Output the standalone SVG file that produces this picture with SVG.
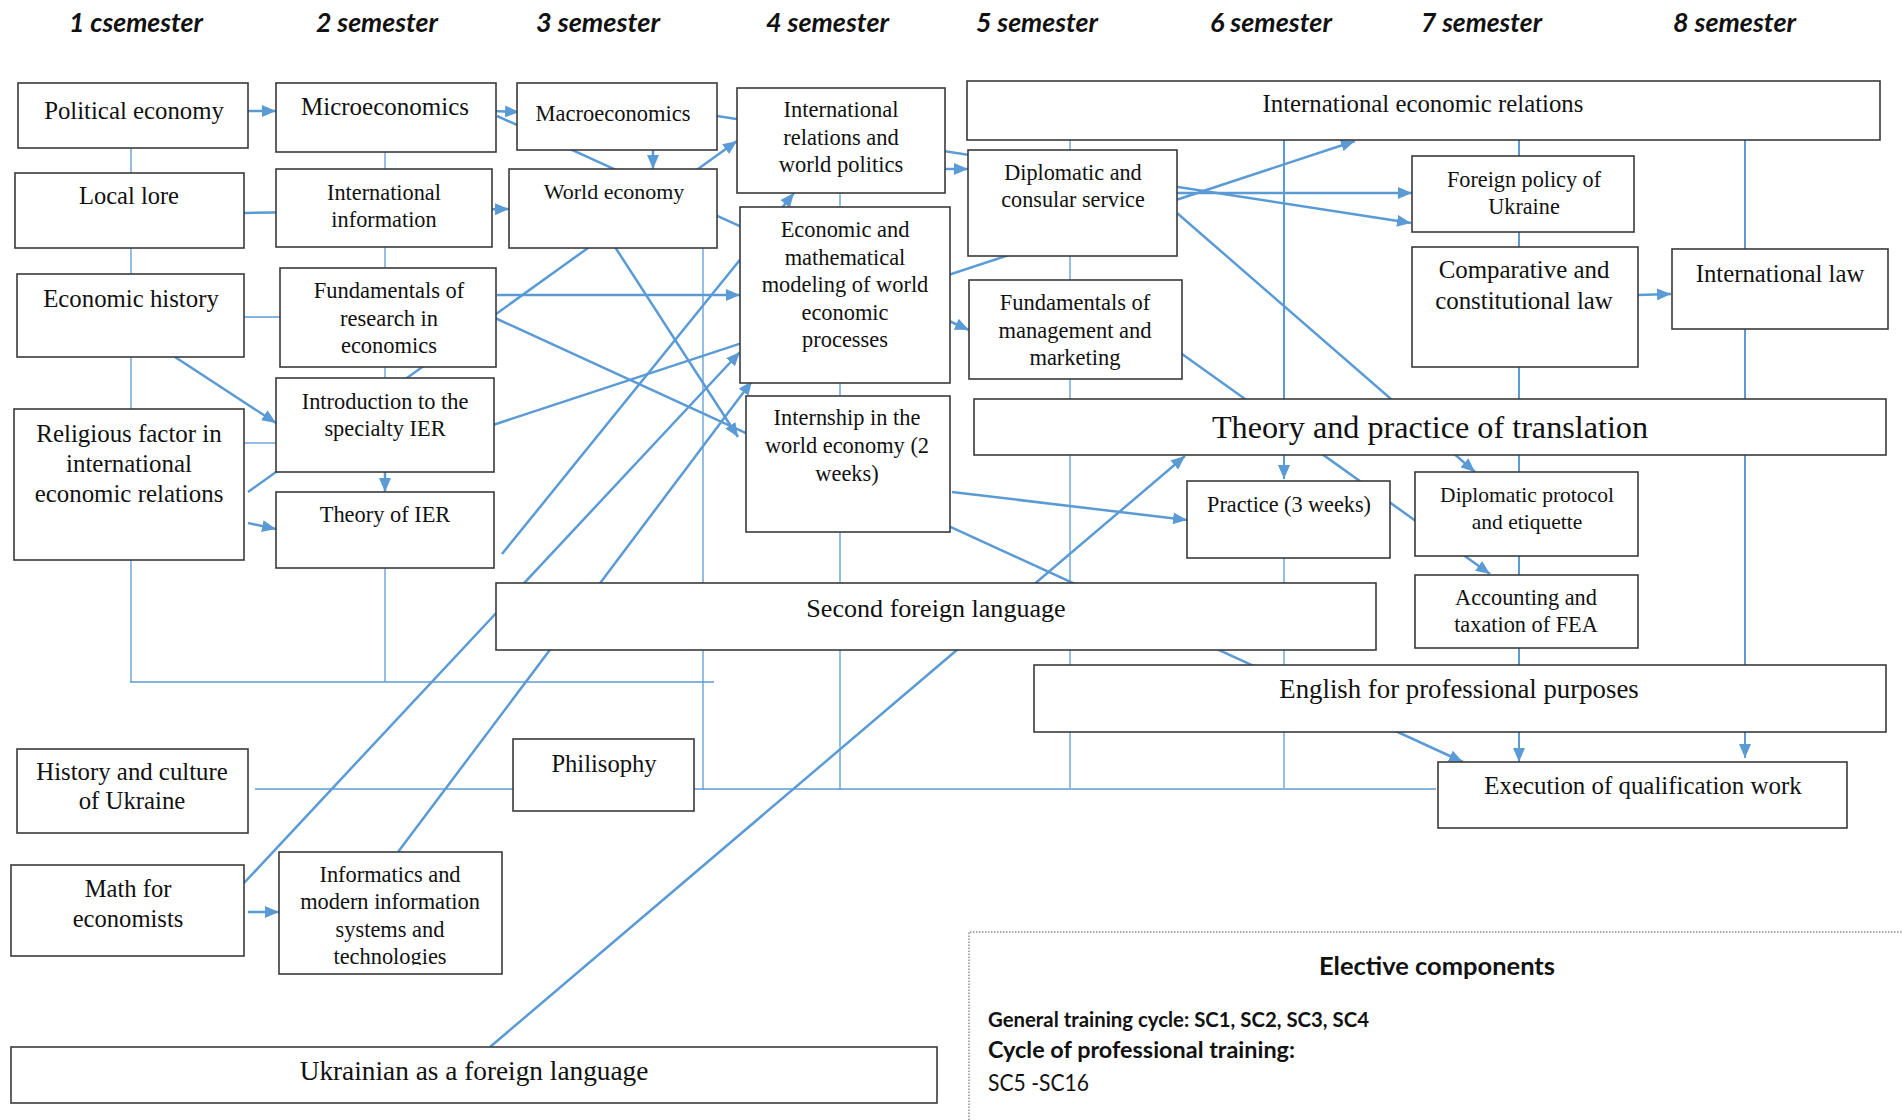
<svg xmlns="http://www.w3.org/2000/svg" width="1903" height="1120" viewBox="0 0 1903 1120">
<style>
.box{fill:#fff;stroke:#3a3a3a;stroke-width:1.6}
.t{font-family:"Liberation Serif","Times New Roman",serif;fill:#111;text-anchor:middle}
.hd{font-family:Lato,"Open Sans",sans-serif;font-weight:bold;font-style:italic;font-size:26px;fill:#111}
.el{font-family:Lato,"Open Sans",sans-serif;fill:#111}
.thin{stroke:#5b9bd5;stroke-width:1.3;fill:none}
.med{stroke:#5b9bd5;stroke-width:2;fill:none}
.thk{stroke:#5b9bd5;stroke-width:2.5;fill:none}
.arr{marker-end:url(#ah)}
</style>
<defs>
<marker id="ah" viewBox="0 0 14 12" markerWidth="14" markerHeight="12" refX="14" refY="6" orient="auto" markerUnits="userSpaceOnUse">
<path d="M0,0 L14,6 L0,12 z" fill="#5b9bd5"/>
</marker>
<clipPath id="clipIF"><rect x="279" y="852" width="223" height="113"/></clipPath>
</defs>
<rect width="1903" height="1120" fill="#fff"/>

<g id="headers">
<text class="hd" x="69" y="32" textLength="134" lengthAdjust="spacingAndGlyphs">1 csemester</text>
<text class="hd" x="316" y="32" textLength="122" lengthAdjust="spacingAndGlyphs">2 semester</text>
<text class="hd" x="536" y="32" textLength="124" lengthAdjust="spacingAndGlyphs">3 semester</text>
<text class="hd" x="766" y="32" textLength="123" lengthAdjust="spacingAndGlyphs">4 semester</text>
<text class="hd" x="976" y="32" textLength="122" lengthAdjust="spacingAndGlyphs">5 semester</text>
<text class="hd" x="1210" y="32" textLength="122" lengthAdjust="spacingAndGlyphs">6 semester</text>
<text class="hd" x="1421" y="32" textLength="121" lengthAdjust="spacingAndGlyphs">7 semester</text>
<text class="hd" x="1673" y="32" textLength="123" lengthAdjust="spacingAndGlyphs">8 semester</text>
</g>

<g id="connectors">
<path class="thin" d="M131,148 V682"/>
<path class="thin" d="M385,152 V682"/>
<path class="thin" d="M130,682 H714"/>
<path class="thin" d="M703,248 V790"/>
<path class="thin" d="M840,193 V790"/>
<path class="thin" d="M1070,140 V788"/>
<path class="thin" d="M255,789 H1436"/>
<path class="thin" d="M244,317 H280"/>
<path class="thin" d="M244,443 H276"/>
<path class="thin" d="M1284,558 V788"/>
<path class="med arr" d="M1284,140 V479"/>
<path class="med arr" d="M1519,140 V762"/>
<path class="med arr" d="M1745,140 V758"/>
<path class="thk arr" d="M248,111 H276"/>
<path class="thk arr" d="M493,111 L519,112"/>
<path class="thk arr" d="M497,116 L969,330"/>
<path class="thk arr" d="M653,150 V169"/>
<path class="thk arr" d="M717,116 L1411,223"/>
<path class="thk arr" d="M244,213 L509,209"/>
<path class="thk arr" d="M248,492 L737,141"/>
<path class="thk arr" d="M175,357 L276,423"/>
<path class="thk arr" d="M248,523 L276,529"/>
<path class="thk arr" d="M385,472 V492"/>
<path class="thk arr" d="M497,295 H740"/>
<path class="thk arr" d="M495,318 L1463,762"/>
<path class="thk arr" d="M493,425 L1355,141"/>
<path class="thk arr" d="M502,554 L794,193"/>
<path class="thk arr" d="M615,247 L738,437"/>
<path class="thk arr" d="M244,883 L740,352"/>
<path class="thk arr" d="M398,852 L752,381"/>
<path class="thk arr" d="M490,1047 L1185,456"/>
<path class="thk arr" d="M248,912 H279"/>
<path class="thk arr" d="M945,169 H968"/>
<path class="thk arr" d="M1177,193 H1412"/>
<path class="thk arr" d="M1177,213 L1475,472"/>
<path class="thk arr" d="M1182,354 L1490,574"/>
<path class="thk arr" d="M952,492 L1187,520"/>
<path class="thk arr" d="M1638,295 L1671,294"/>
</g>

<g id="n-political-economy"><rect class="box" x="18" y="83" width="230" height="65"/><text class="t" x="134" y="119" font-size="24.8">Political economy</text></g>
<g id="n-local-lore"><rect class="box" x="15" y="173" width="229" height="75"/><text class="t" x="129" y="204" font-size="24.5">Local lore</text></g>
<g id="n-economic-history"><rect class="box" x="17" y="274" width="227" height="83"/><text class="t" x="131" y="307" font-size="24.8">Economic history</text></g>
<g id="n-religious-factor"><rect class="box" x="14" y="409" width="230" height="151"/><text class="t" x="129" y="442" font-size="24.9"><tspan x="129">Religious factor in</tspan><tspan x="129" dy="30">international</tspan><tspan x="129" dy="30">economic relations</tspan></text></g>
<g id="n-microeconomics"><rect class="box" x="276" y="83" width="220" height="69"/><text class="t" x="385" y="115" font-size="25">Microeconomics</text></g>
<g id="n-international-information"><rect class="box" x="276" y="169" width="216" height="78"/><text class="t" x="384" y="199.5" font-size="22.3"><tspan x="384">International</tspan><tspan x="384" dy="27.5">information</tspan></text></g>
<g id="n-fundamentals-research"><rect class="box" x="280" y="268" width="216" height="99"/><text class="t" x="389" y="298" font-size="22.5"><tspan x="389">Fundamentals of</tspan><tspan x="389" dy="27.5">research in</tspan><tspan x="389" dy="27.5">economics</tspan></text></g>
<g id="n-introduction"><rect class="box" x="276" y="378" width="218" height="94"/><text class="t" x="385" y="409" font-size="22.4"><tspan x="385">Introduction to the</tspan><tspan x="385" dy="26.5">specialty IER</tspan></text></g>
<g id="n-theory-ier"><rect class="box" x="276" y="492" width="218" height="76"/><text class="t" x="385" y="522" font-size="22.4">Theory of IER</text></g>
<g id="n-macroeconomics"><rect class="box" x="517" y="83" width="200" height="67"/><text class="t" x="613" y="121" font-size="22.5">Macroeconomics</text></g>
<g id="n-world-economy"><rect class="box" x="509" y="169" width="208" height="79"/><text class="t" x="614" y="199" font-size="22">World economy</text></g>
<g id="n-international-relations"><rect class="box" x="737" y="88" width="208" height="105"/><text class="t" x="841" y="117" font-size="22.5"><tspan x="841">International</tspan><tspan x="841" dy="27.5">relations and</tspan><tspan x="841" dy="27.5">world politics</tspan></text></g>
<g id="n-economic-modeling"><rect class="box" x="740" y="207" width="210" height="176"/><text class="t" x="845" y="237" font-size="22.4"><tspan x="845">Economic and</tspan><tspan x="845" dy="27.5">mathematical</tspan><tspan x="845" dy="27.5">modeling of world</tspan><tspan x="845" dy="27.5">economic</tspan><tspan x="845" dy="27.5">processes</tspan></text></g>
<g id="n-internship"><rect class="box" x="746" y="396" width="204" height="136"/><text class="t" x="847" y="425" font-size="22.4"><tspan x="847">Internship in the</tspan><tspan x="847" dy="28">world economy (2</tspan><tspan x="847" dy="28">weeks)</tspan></text></g>
<g id="n-international-economic-relations"><rect class="box" x="967" y="81" width="913" height="59"/><text class="t" x="1423" y="112" font-size="24.8">International economic relations</text></g>
<g id="n-diplomatic-consular"><rect class="box" x="968" y="150" width="209" height="106"/><text class="t" x="1073" y="180" font-size="22.2"><tspan x="1073">Diplomatic and</tspan><tspan x="1073" dy="27">consular service</tspan></text></g>
<g id="n-fundamentals-management"><rect class="box" x="969" y="280" width="213" height="99"/><text class="t" x="1075" y="310" font-size="22.5"><tspan x="1075">Fundamentals of</tspan><tspan x="1075" dy="27.5">management and</tspan><tspan x="1075" dy="27.5">marketing</tspan></text></g>
<g id="n-theory-practice-translation"><rect class="box" x="974" y="399" width="912" height="56"/><text class="t" x="1430" y="438" font-size="32.2">Theory and practice of translation</text></g>
<g id="n-foreign-policy"><rect class="box" x="1412" y="156" width="222" height="76"/><text class="t" x="1524" y="187" font-size="22.2"><tspan x="1524">Foreign policy of</tspan><tspan x="1524" dy="26.5">Ukraine</tspan></text></g>
<g id="n-comparative-law"><rect class="box" x="1412" y="247" width="226" height="120"/><text class="t" x="1524" y="278" font-size="24.9"><tspan x="1524">Comparative and</tspan><tspan x="1524" dy="31">constitutional law</tspan></text></g>
<g id="n-international-law"><rect class="box" x="1672" y="249" width="216" height="80"/><text class="t" x="1780" y="282" font-size="24.8">International law</text></g>
<g id="n-practice"><rect class="box" x="1187" y="481" width="203" height="77"/><text class="t" x="1289" y="512" font-size="22.2">Practice (3 weeks)</text></g>
<g id="n-diplomatic-protocol"><rect class="box" x="1415" y="472" width="223" height="84"/><text class="t" x="1527" y="502" font-size="21.5"><tspan x="1527">Diplomatic protocol</tspan><tspan x="1527" dy="26.5">and etiquette</tspan></text></g>
<g id="n-accounting"><rect class="box" x="1415" y="575" width="223" height="73"/><text class="t" x="1526" y="605" font-size="22.3"><tspan x="1526">Accounting and</tspan><tspan x="1526" dy="27">taxation of FEA</tspan></text></g>
<g id="n-second-foreign-language"><rect class="box" x="496" y="583" width="880" height="67"/><text class="t" x="936" y="617" font-size="26.1">Second foreign language</text></g>
<g id="n-english"><rect class="box" x="1034" y="665" width="852" height="67"/><text class="t" x="1459" y="698" font-size="26.8">English for professional purposes</text></g>
<g id="n-execution"><rect class="box" x="1438" y="762" width="409" height="66"/><text class="t" x="1643" y="794" font-size="24.9">Execution of qualification work</text></g>
<g id="n-history-culture"><rect class="box" x="17" y="749" width="231" height="84"/><text class="t" x="132" y="780" font-size="24.8"><tspan x="132">History and culture</tspan><tspan x="132" dy="28.5">of Ukraine</tspan></text></g>
<g id="n-philosophy"><rect class="box" x="513" y="739" width="181" height="72"/><text class="t" x="604" y="772" font-size="24.6">Philisophy</text></g>
<g id="n-math"><rect class="box" x="11" y="865" width="233" height="91"/><text class="t" x="128" y="897" font-size="24.6"><tspan x="128">Math for</tspan><tspan x="128" dy="30">economists</tspan></text></g>
<g id="n-informatics"><rect class="box" x="279" y="852" width="223" height="122"/><text class="t" x="390" y="882" font-size="22.4" clip-path="url(#clipIF)"><tspan x="390">Informatics and</tspan><tspan x="390" dy="27.3">modern information</tspan><tspan x="390" dy="27.3">systems and</tspan><tspan x="390" dy="27.3">technologies</tspan></text></g>
<g id="n-ukrainian"><rect class="box" x="11" y="1047" width="926" height="56"/><text class="t" x="474" y="1080" font-size="27.3">Ukrainian as a foreign language</text></g>

<g id="n-elective">
<path d="M969,1120 V932 H1903" fill="none" stroke="#555" stroke-width="1" stroke-dasharray="1.5,1.5"/>
<text class="el" x="1319" y="975" font-size="25" font-weight="bold" textLength="236" lengthAdjust="spacingAndGlyphs">Elective components</text>
<text class="el" x="988" y="1027" font-size="20" font-weight="bold" textLength="381" lengthAdjust="spacingAndGlyphs">General training cycle: SC1, SC2, SC3, SC4</text>
<text class="el" x="988" y="1058" font-size="23" font-weight="bold" textLength="307" lengthAdjust="spacingAndGlyphs">Cycle of professional training:</text>
<text class="el" x="988" y="1091" font-size="23" textLength="101" lengthAdjust="spacingAndGlyphs">SC5 -SC16</text>
</g>
</svg>
